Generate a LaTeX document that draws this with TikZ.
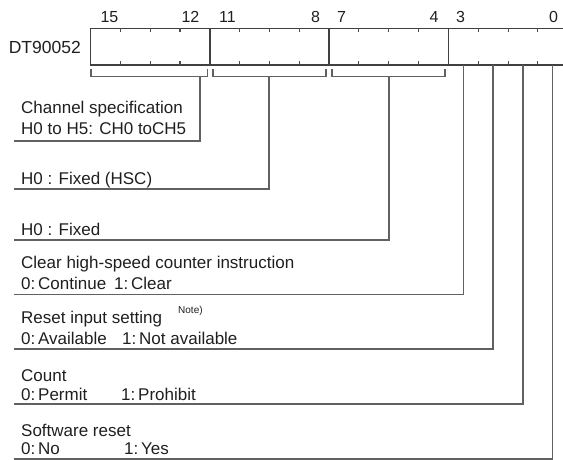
\documentclass[tikz,border=0pt]{standalone}
\usepackage{fontspec}
\setmainfont{Liberation Sans}
\usetikzlibrary{calc}
\begin{document}
\begin{tikzpicture}[x=1pt,y=-1pt,
  nib/.style={draw=black!75,line width=1.6pt,minimum width=119.3pt,minimum height=36.5pt,inner sep=0pt,outer sep=0pt,anchor=north west},
  tickline/.style={draw=black!70,line width=1.1pt},
  conn/.style={draw=black!62,line width=1.3pt},
  lbl/.style={anchor=base west,inner sep=0pt,text=black!88,font=\fontsize{17}{20}\selectfont},
  bitnum/.style={anchor=base,inner sep=0pt,text=black!88,font=\fontsize{16}{18}\selectfont},
  notelbl/.style={anchor=base west,inner sep=0pt,text=black!88,font=\fontsize{10}{11}\selectfont}
]
\useasboundingbox (0,0) rectangle (563,460);
\clip (0,0) rectangle (563,460);

% register name
\node[anchor=base east,inner sep=0pt,text=black!88,font=\fontsize{17.5}{20}\selectfont] (reg) at (81,53.5) {DT90052};

% nibbles
\node[nib] (n3) at (90.5,28.5) {};
\node[nib] (n2) at (209.8,28.5) {};
\node[nib] (n1) at (329.1,28.5) {};
\node[nib] (n0) at (448.4,28.5) {};

% ticks
\foreach \n in {n3,n2,n1,n0}{
  \foreach \k in {1,2,3}{
    \draw[tickline] ($(\n.north west)!\k/4!(\n.north east)$) -- ++(0,4);
    \draw[tickline] ($(\n.south west)!\k/4!(\n.south east)$) -- ++(0,-4);
  }
}

% bit numbers
\node[bitnum] (l15) at (109.5,23) {15};
\node[bitnum] (l12) at (190.5,23) {12};
\node[bitnum] (l11) at (227.5,23) {11};
\node[bitnum] (l8) at (315.5,23) {8};
\node[bitnum] (l7) at (341.5,23) {7};
\node[bitnum] (l4) at (434,23) {4};
\node[bitnum] (l3) at (460.5,23) {3};
\node[bitnum] (l0) at (553.5,23) {0};

% brackets
\draw[conn] (91,69) -- (91,76.5) -- (207.5,76.5) -- (207.5,69);
\draw[conn] (213,69) -- (213,76.5) -- (326,76.5) -- (326,69);
\draw[conn] (332,69) -- (332,76.5) -- (445,76.5) -- (445,69);
\coordinate (b3) at (200,76.5);
\coordinate (b2) at (269,76.5);
\coordinate (b1) at (389,76.5);

% bit drop points
\coordinate (bit3) at ($(n0.south west)!0.125!(n0.south east)$);
\coordinate (bit2) at ($(n0.south west)!0.375!(n0.south east)$);
\coordinate (bit1) at ($(n0.south west)!0.625!(n0.south east)$);
\coordinate (bit0) at ($(n0.south west)!0.875!(n0.south east)$);

% underline ends
\coordinate (u1) at (14,141);
\coordinate (u2) at (14,189);
\coordinate (u3) at (14,240);
\coordinate (u4) at (14,294.5);
\coordinate (u5) at (14,349);
\coordinate (u6) at (14,404);
\coordinate (u7) at (14,459);

% texts
\node[lbl] (t1a) at (21,113.5) {Channel specification};
\node[lbl] (t1b) at (21,135) {H0 to H5: CH0 toCH5};
\node[lbl] (t2) at (21,184.5) {H0 : Fixed (HSC)};
\node[lbl] (t3) at (21,235) {H0 : Fixed};
\node[lbl] (t4a) at (21,268.5) {Clear high-speed counter instruction};
\node[lbl] (t4b) at (21,289.5) {\makebox[93pt][l]{0:\,Continue}1:\,Clear};
\node[lbl] (t5a) at (21,323.5) {Reset input setting};
\node[notelbl] (note) at (178,313.5) {Note)};
\node[lbl] (t5b) at (21,344) {\makebox[101pt][l]{0:\,Available}1:\,Not available};
\node[lbl] (t6a) at (21,381) {Count};
\node[lbl] (t6b) at (21,400) {\makebox[100pt][l]{0:\,Permit}1:\,Prohibit};
\node[lbl] (t7a) at (21,436.5) {Software reset};
\node[lbl] (t7b) at (21,454.5) {\makebox[103pt][l]{0:\,No}1:\,Yes};

% connectors
\draw[conn] (b3) |- (u1);
\draw[conn] (b2) |- (u2);
\draw[conn] (b1) |- (u3);
\draw[conn] (bit3) |- (u4);
\draw[conn] (bit2) |- (u5);
\draw[conn] (bit1) |- (u6);
\draw[conn] (bit0) |- (u7);
\end{tikzpicture}
\end{document}
